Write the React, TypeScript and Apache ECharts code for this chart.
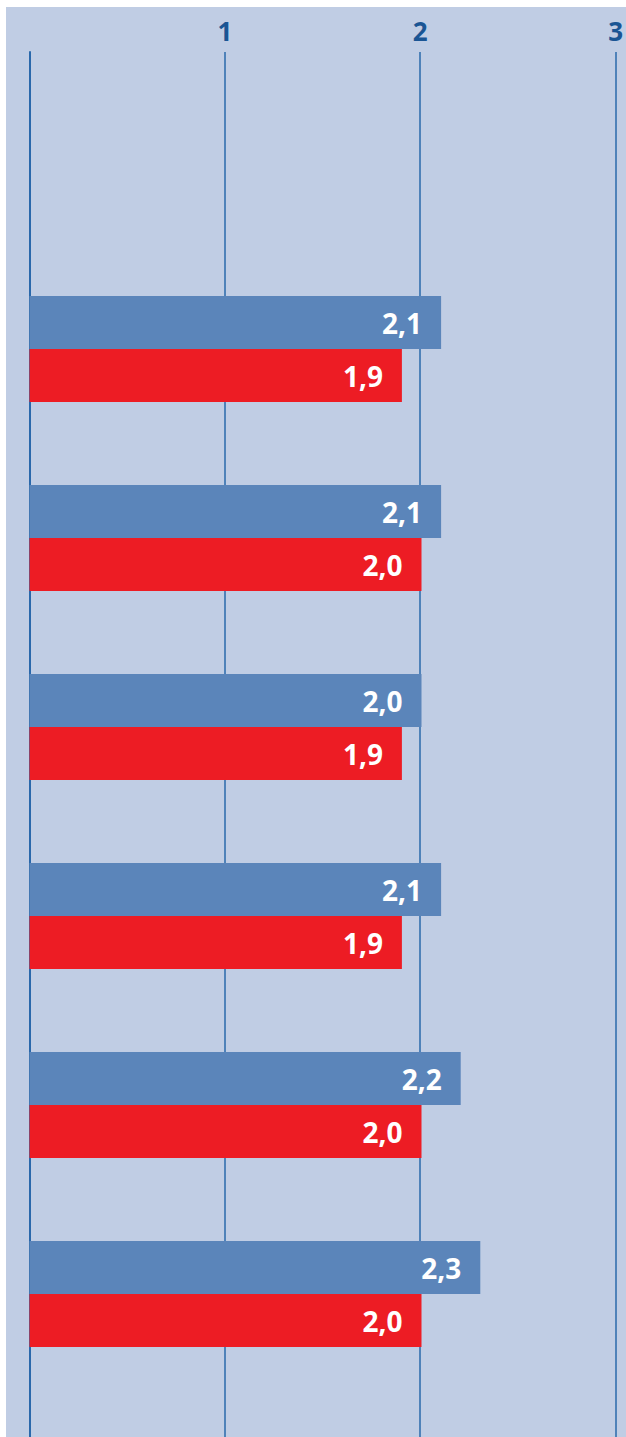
import React, { useEffect, useRef } from "react";
import * as echarts from "echarts";

const categories = ["", "Row 1", "Row 2", "Row 3", "Row 4", "Row 5", "Row 6"];
const blueValues = [null, 2.1, 2.1, 2.0, 2.1, 2.2, 2.3];
const redValues = [null, 1.9, 2.0, 1.9, 1.9, 2.0, 2.0];
const tickValues = [0, 1, 2, 3];

const fmt = (v: number) => v.toFixed(1).replace(".", ",");

export default function App() {
  const ref = useRef<HTMLDivElement>(null);
  useEffect(() => {
    const chart = echarts.init(ref.current!, undefined, { renderer: "svg" });
    const labelStyle = {
      show: true,
      position: "insideRight",
      distance: 19,
      color: "#ffffff",
      fontWeight: "bold",
      fontSize: 28,
      fontFamily: "Noto Sans",
      formatter: (p: any) => fmt(p.value),
    };
    chart.setOption({
      animation: false,
      backgroundColor: "#ffffff",
      graphic: [
        {
          type: "rect",
          z: -10,
          shape: { x: 6, y: 7, width: 620, height: 1430 },
          style: { fill: "#c0cde4" },
        },
      ],
      grid: [
        { left: 29.5, right: 8.5, top: 52, bottom: 0 },
        { left: 29.5, right: 8.5, top: 65.5, height: 1323 },
      ],
      xAxis: [
        {
          gridIndex: 0,
          type: "value",
          position: "top",
          min: tickValues[0],
          max: tickValues[tickValues.length - 1],
          interval: 1,
          axisLine: { show: false },
          axisTick: { show: false },
          splitLine: { show: true, lineStyle: { color: "#2a68ab", width: 1.5 } },
          axisLabel: {
            margin: 8,
            color: "#1a5594",
            fontWeight: "bold",
            fontSize: 26,
            fontFamily: "Noto Sans",
            formatter: (v: number) => (v === 0 ? "" : String(v)),
          },
        },
        {
          gridIndex: 1,
          type: "value",
          min: 0,
          max: 3,
          interval: 1,
          show: false,
        },
      ],
      yAxis: [
        {
          gridIndex: 0,
          type: "value",
          show: true,
          axisLine: { show: true, lineStyle: { color: "#2a68ab", width: 2 } },
          axisTick: { show: false },
          axisLabel: { show: false },
          splitLine: { show: false },
        },
        {
          gridIndex: 1,
          type: "category",
          data: categories,
          inverse: true,
          show: false,
        },
      ],
      series: [
        {
          type: "bar",
          xAxisIndex: 1,
          yAxisIndex: 1,
          data: blueValues,
          barWidth: 53,
          barGap: "0%",
          itemStyle: { color: "#5b85ba" },
          label: labelStyle,
          z: 5,
        },
        {
          type: "bar",
          xAxisIndex: 1,
          yAxisIndex: 1,
          data: redValues,
          barWidth: 53,
          barGap: "0%",
          itemStyle: { color: "#ed1c24" },
          label: labelStyle,
          z: 5,
        },
      ],
    });
    return () => chart.dispose();
  }, []);
  return (
    <div
      ref={ref}
      style={{ position: "absolute", left: 0, top: 0, width: 626, height: 1437 }}
    />
  );
}
